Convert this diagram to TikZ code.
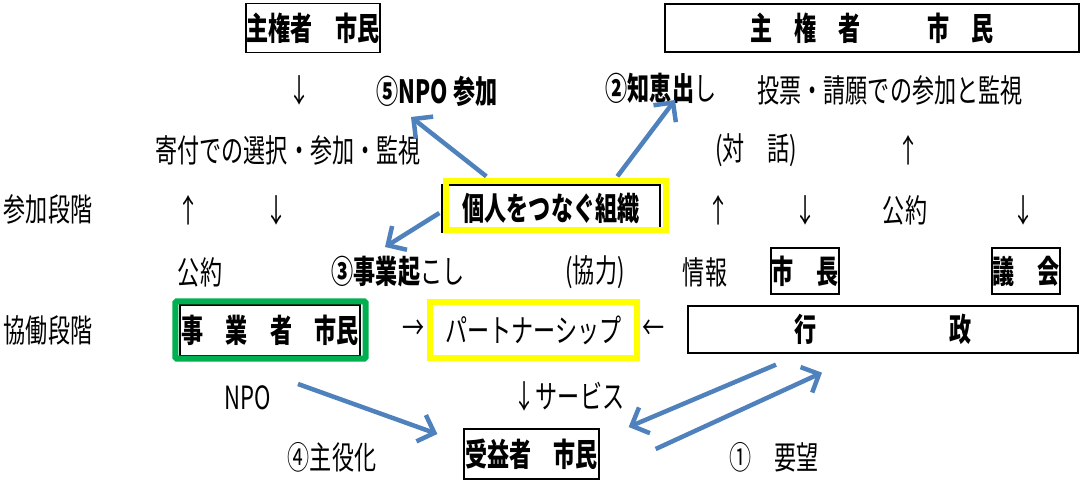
\documentclass[tikz,border=0pt]{standalone}
\usepackage{fontspec}
\setmainfont[FakeStretch=0.69]{Noto Sans CJK JP}
\usepackage{xcolor}
\usepackage{tikz}
\usetikzlibrary{arrows.meta}
\definecolor{arrblue}{RGB}{79,129,189}
\definecolor{frameyel}{RGB}{255,255,0}
\definecolor{framegrn}{RGB}{0,176,80}

\begin{document}
\begin{tikzpicture}[x=1pt,y=-1pt,
  txt/.style={inner sep=0pt,font=\fontsize{32}{33}\selectfont},
  btxt/.style={txt,font=\fontsize{32}{33}\selectfont\bfseries},
  box/.style={draw,line width=1.3pt,inner sep=0pt,
              font=\fontsize{32}{33}\selectfont\bfseries},
  yframe/.style={draw=frameyel,line width=6pt},
  gframe/.style={draw=framegrn,line width=6pt,rounded corners=1.5pt},
  arr/.style={-{Straight Barb[length=14pt,width=28pt]},line width=4.5pt,arrblue}]
\useasboundingbox (0,0) rectangle (1081,484);
\node[box,minimum width=134pt,minimum height=49pt] (cit1) at (313,28) {主権者　市民};
\node[box,minimum width=414pt,minimum height=48pt] (cit2) at (872,28) {主　権　者　　　市　民};
\node[txt] (dn1) at (300,90) {↓};
\node[btxt] (npo5) at (437,91) {⑤NPO 参加};
\node[txt] (chie) at (661,88) {\textbf{②知恵出}し};
\node[txt] (vote) at (890,90) {投票・請願での参加と監視};
\node[txt] (kifu) at (288,150) {寄付での選択・参加・監視};
\node[txt] (taiwa) at (756,150) {(対　話)};
\node[txt] (up1) at (909,150) {↑};
\node[txt] (sanka) at (48,209) {参加段階};
\node[txt] (up2) at (189,210) {↑};
\node[txt] (dn2) at (277,210) {↓};
\node[box,minimum width=218pt,minimum height=47pt] (org) at (551,208.5) {個人をつなぐ組織};
\draw[yframe] ([shift={(5,-3)}]org.south west) rectangle ([shift={(5,-3)}]org.north east);
\node[txt] (up3) at (719,210) {↑};
\node[txt] (dn3) at (806,210) {↓};
\node[txt] (koyaku2) at (905,210) {公約};
\node[txt] (dn4) at (1024,210) {↓};
\node[txt] (koyaku1) at (200,272) {公約};
\node[txt] (jigyo) at (398,272) {\textbf{③事業起}こし};
\node[txt] (kyoryoku) at (595,272) {(協力)};
\node[txt] (joho) at (705,272) {情報};
\node[box,minimum width=68pt,minimum height=46pt] (mayor) at (805,271) {市　長};
\node[box,minimum width=68pt,minimum height=46pt] (council) at (1026,271) {議　会};
\node[txt] (kyodo) at (48,330) {協働段階};
\node[box,minimum width=180pt,minimum height=51pt] (biz) at (270,330.5) {事　業　者　市民};
\draw[gframe] ([shift={(-4,2)}]biz.south west) rectangle ([shift={(5,-3)}]biz.north east);
\node[txt] (ra) at (414,330) {→};
\node[txt,draw=frameyel,line width=6pt,minimum width=207pt,minimum height=56pt] (ptn) at (533.5,330) {パートナーシップ};
\node[txt] (la) at (654,330) {←};
\node[box,minimum width=390pt,minimum height=47pt] (gov) at (883,329.5) {行　　　　　　政};
\node[txt] (npo) at (248,398) {NPO};
\node[txt] (svc) at (569,396) {↓サービス};
\node[txt] (shuyaku) at (332,457) {④主役化};
\node[box,minimum width=135pt,minimum height=50pt] (ben) at (531.5,454) {受益者　市民};
\node[txt] (yobo) at (774,457) {①　要望};
\draw[arr] ([shift={(45,-8)}]org.north west) -- ([shift={(-26,26)}]npo5.center);
\draw[arr] ([shift={(176,-8)}]org.north west) -- ([shift={(14,12)}]chie.center);
\draw[arr] ([shift={(-2,4.5)}]org.west) -- ([shift={(-13,-25)}]jigyo.center);
\draw[arr] ([shift={(50,-14)}]npo.center) -- ([shift={(-26,-20)}]ben.west);
\draw[arr] ([shift={(-107,11)}]gov.south) -- ([shift={(29,-27)}]ben.east);
\draw[arr] ([shift={(56,-5)}]ben.east) -- ([shift={(-61,19)}]gov.south);
\end{tikzpicture}
\end{document}
